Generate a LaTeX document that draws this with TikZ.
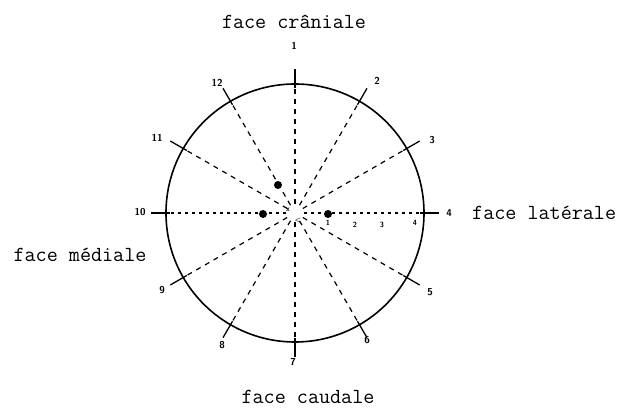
\documentclass[tikz,border=0pt]{standalone}
\begin{document}
\begin{tikzpicture}[x=1pt,y=1pt,
  ring/.style={circle,draw,line width=1.6pt,minimum size=258pt,inner sep=0pt},
  ray/.style={line width=1.2pt,dash pattern=on 5pt off 5pt},
  fineray/.style={line width=1.2pt,dash pattern=on 3pt off 4pt},
  tick/.style={line width=1.3pt},
  num/.style={font=\sffamily\bfseries\fontsize{10}{10}\selectfont,inner sep=0pt},
  tiny/.style={font=\sffamily\bfseries\fontsize{7.5}{7.5}\selectfont,inner sep=0pt},
  face/.style={font=\ttfamily\fontsize{21.5}{24}\selectfont,inner sep=0pt},
  pt/.style={circle,fill,minimum size=8pt,inner sep=0pt}]
\useasboundingbox (0,0) rectangle (633,412);
\node[ring] (C) at (295,199) {};
% rays
\foreach \a in {30,60,90,120,150,210,240,270,300,330}
  \draw[ray] (C.center) ++(\a:9) -- (C.\a);
\draw[fineray] (C.center) ++(0:9) -- (C.0);
\draw[fineray] (C.center) ++(180:9) -- (C.180);
% ticks
\foreach \a in {0,30,...,330}
  \draw[tick] (C.center) ++(\a:125) -- ++(\a:19);
% numbers
\node[num] (n1) at (294,366) {1};
\node[num] (n2) at (377,331) {2};
\node[num] (n3) at (432,272) {3};
\node[num] (n4) at (449,199) {4};
\node[num] (n5) at (430,120) {5};
\node[num] (n6) at (367,72) {6};
\node[num] (n7) at (293,50) {7};
\node[num] (n8) at (222,67) {8};
\node[num] (n9) at (162,122) {9};
\node[num] (n10) at (140,200) {10};
\node[num] (n11) at (157,274) {11};
\node[num] (n12) at (217,329) {12};
% dots
\node[pt] (d1) at (278,227) {};
\node[pt] (d2) at (263,198) {};
\node[pt] (d3) at (328,198) {};
% scale labels
\node[tiny] (s1) at (328,189) {1};
\node[tiny] (s2) at (355,187) {2};
\node[tiny] (s3) at (382,187) {3};
\node[tiny] (s4) at (415,189) {4};
\node[tiny] (c1) at (288,202) {x};
\node[tiny] (c2) at (298,191) {<};
% faces
\node[face] (fc) at (294,390) {face crâniale};
\node[face,anchor=west] (fl) at (472,199) {face latérale};
\node[face] (fm) at (80,157) {face médiale};
\node[face] (fd) at (308,15) {face caudale};
\end{tikzpicture}
\end{document}
